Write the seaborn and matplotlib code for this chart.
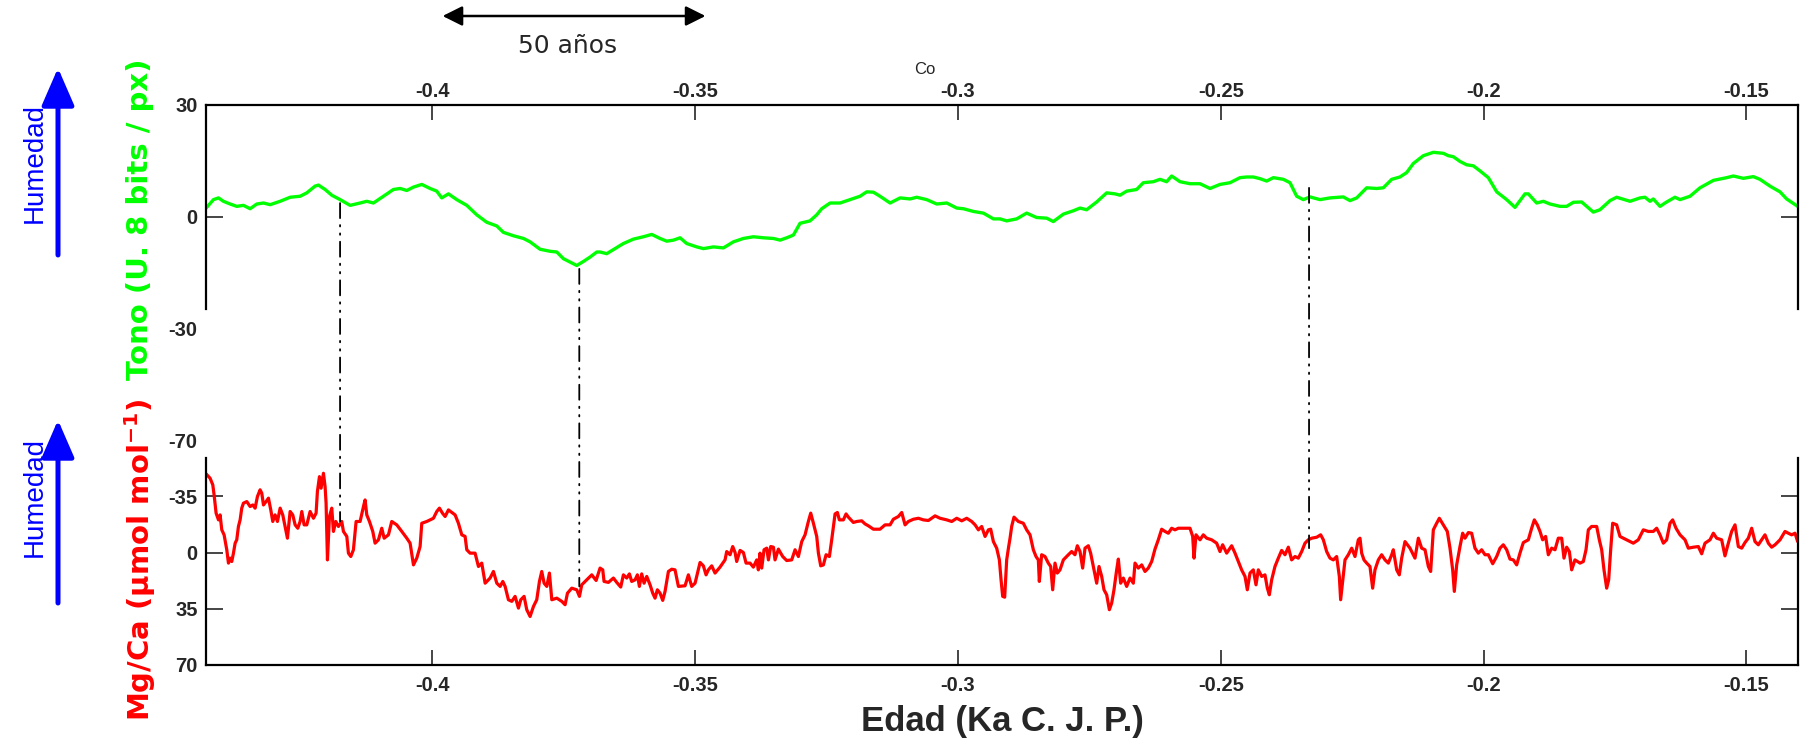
import numpy as np
import pandas as pd
import matplotlib
matplotlib.use("Agg")
import matplotlib.pyplot as plt
import seaborn as sns
from matplotlib.patches import ConnectionPatch

# ---------------- data ----------------
age_ticks = [-0.40, -0.35, -0.30, -0.25, -0.20, -0.15]
age_tick_labels = ["-0.4", "-0.35", "-0.3", "-0.25", "-0.2", "-0.15"]
tono_ticks = [-30, 0, 30]
tono_tick_labels = ["-30", "0", "30"]
mgca_ticks = [-70, -35, 0, 35, 70]
mgca_tick_labels = ["-70", "-35", "0", "35", "70"]

green_x = [
    -0.44298, -0.44158, -0.44063, -0.43968, -0.43841, -0.43715, -0.43588, -0.43461, -0.43334, -0.43207,
    -0.43081, -0.42890, -0.42700, -0.42510, -0.42383, -0.42225, -0.42161, -0.42035, -0.41908, -0.41749,
    -0.41559, -0.41369, -0.41242, -0.41115, -0.40925, -0.40735, -0.40608, -0.40481, -0.40354, -0.40196,
    -0.40037, -0.39911, -0.39816, -0.39689, -0.39530, -0.39340, -0.39150, -0.38960, -0.38769, -0.38643,
    -0.38453, -0.38262, -0.38136, -0.37945, -0.37755, -0.37628, -0.37501, -0.37375, -0.37248, -0.37121,
    -0.36994, -0.36867,
    -0.36805, -0.36678, -0.36520, -0.36361, -0.36171, -0.35981, -0.35822, -0.35664, -0.35537, -0.35410,
    -0.35283, -0.35157, -0.34966, -0.34840, -0.34649, -0.34459, -0.34269, -0.34079, -0.33889, -0.33698,
    -0.33508, -0.33381, -0.33255, -0.33128, -0.33001, -0.32811, -0.32684, -0.32589, -0.32430, -0.32240,
    -0.32050, -0.31860, -0.31733, -0.31606, -0.31480, -0.31289, -0.31099, -0.30909, -0.30782, -0.30592,
    -0.30402, -0.30211, -0.30021, -0.29894, -0.29704, -0.29514, -0.29324,
    -0.29198, -0.29071, -0.28881, -0.28691, -0.28501, -0.28310, -0.28184, -0.27993, -0.27803, -0.27676,
    -0.27550, -0.27359, -0.27169, -0.27011, -0.26916, -0.26789, -0.26599, -0.26472, -0.26282, -0.26155,
    -0.26028, -0.25933, -0.25774, -0.25584, -0.25394, -0.25204, -0.25014, -0.24823, -0.24633, -0.24506,
    -0.24380, -0.24253, -0.24126, -0.23999, -0.23809, -0.23682, -0.23555, -0.23429, -0.23302, -0.23112,
    -0.22922, -0.22668, -0.22541, -0.22414, -0.22224, -0.22034, -0.21907, -0.21748,
    -0.21590, -0.21463, -0.21336, -0.21146, -0.20956, -0.20766, -0.20671, -0.20576, -0.20449, -0.20322,
    -0.20195, -0.20068, -0.19910, -0.19751, -0.19561, -0.19403, -0.19213, -0.19149, -0.18991, -0.18864,
    -0.18737, -0.18547, -0.18420, -0.18293, -0.18135, -0.17913, -0.17786, -0.17596, -0.17469, -0.17215,
    -0.17025, -0.16930, -0.16835, -0.16772, -0.16645, -0.16518, -0.16360, -0.16264, -0.16074, -0.15884,
    -0.15630, -0.15376, -0.15250, -0.15060, -0.14870, -0.14743, -0.14553, -0.14362, -0.14236, -0.14026,
]
green_y = [
    2.27, 4.54, 5.0, 4.09, 3.36, 2.73, 3.0, 2.09, 3.36, 3.63,
    3.18, 4.09, 5.18, 5.45, 6.36, 8.18, 8.45, 7.27, 5.73, 4.54,
    3.0, 3.63, 4.09, 3.63, 5.45, 7.27, 7.54, 7.0, 7.91, 8.63,
    7.54, 6.82, 5.0, 6.09, 4.54, 3.0, 0.45, -1.55, -2.55, -4.27,
    -5.18, -5.91, -6.82, -8.82, -9.36, -9.55, -11.36, -12.27, -13.18, -12.09,
    -10.91, -9.55,
    -9.55, -10.0, -8.64, -7.27, -6.09, -5.45, -4.82, -5.91, -6.64, -6.36,
    -5.73, -7.27, -8.18, -8.64, -8.18, -8.45, -6.82, -5.91, -5.45, -5.73,
    -5.91, -6.36, -5.73, -5.0, -1.82, -1.18, 0.45, 2.09, 3.63, 3.63,
    4.54, 5.45, 6.64, 6.54, 5.45, 3.63, 5.0, 4.72, 5.18, 4.54,
    3.36, 3.63, 2.27, 2.09, 1.36, 0.91, -0.64,
    -0.64, -1.18, -0.64, 0.91, -0.27, -0.45, -1.36, 0.64, 1.54, 2.27,
    1.82, 3.91, 6.36, 6.09, 5.73, 6.82, 7.27, 9.09, 9.36, 10.0,
    9.36, 10.9, 9.36, 8.82, 8.82, 7.54, 8.63, 9.09, 10.45, 10.63,
    10.63, 10.18, 9.54, 10.45, 10.0, 9.09, 5.45, 4.54, 5.27, 4.54,
    5.0, 5.27, 4.27, 5.0, 7.72, 7.54, 7.72, 10.0,
    10.64, 11.82, 14.27, 16.36, 17.27, 17.0, 16.36, 16.09, 14.82, 13.91,
    13.64, 12.27, 10.45, 6.64, 4.54, 2.45, 6.09, 6.09, 3.63, 4.09,
    3.36, 2.73, 2.73, 3.82, 3.91, 1.18, 1.82, 4.27, 5.18, 4.09,
    5.0, 5.18, 4.09, 4.72, 2.73, 3.91, 5.18, 4.54, 5.45, 7.72,
    9.72, 10.45, 10.9, 10.27, 10.73, 10.0, 8.18, 6.63, 4.72, 2.73,
]

red_x = [
    -0.44298, -0.44222, -0.44171, -0.44146, -0.44108, -0.44063, -0.44032, -0.44000, -0.43956, -0.43905,
    -0.43873, -0.43841, -0.43810, -0.43778, -0.43746, -0.43715, -0.43683, -0.43651, -0.43620, -0.43588,
    -0.43524, -0.43461, -0.43410, -0.43366, -0.43322, -0.43271, -0.43239, -0.43207, -0.43157, -0.43112,
    -0.43068, -0.43030, -0.42986, -0.42941, -0.42890, -0.42840, -0.42795, -0.42751, -0.42700, -0.42650,
    -0.42605, -0.42554, -0.42510, -0.42478, -0.42434, -0.42383, -0.42320, -0.42256, -0.42206, -0.42181,
    -0.42142, -0.42111, -0.42066, -0.42035, -0.42016, -0.41990, -0.41952, -0.41908, -0.41876, -0.41832,
    -0.41781, -0.41718, -0.41686, -0.41622, -0.41591, -0.41546, -0.41496, -0.41445, -0.41369, -0.41305,
    -0.41274, -0.41242, -0.41191, -0.41128, -0.41084, -0.41020, -0.40957, -0.40912, -0.40830, -0.40767,
    -0.40672, -0.40576, -0.40481, -0.40418, -0.40354, -0.40291, -0.40228, -0.40196, -0.40101, -0.39974,
    -0.39911, -0.39860, -0.39803, -0.39752, -0.39689, -0.39562, -0.39499, -0.39435, -0.39372, -0.39340,
    -0.39277, -0.39182, -0.39118, -0.39055, -0.38991, -0.38896, -0.38833, -0.38769, -0.38706, -0.38655,
    -0.38611, -0.38548, -0.38484, -0.38421, -0.38357, -0.38313, -0.38250, -0.38199, -0.38136, -0.38072,
    -0.38009, -0.37958, -0.37914, -0.37869, -0.37818, -0.37768, -0.37723, -0.37628, -0.37533, -0.37470,
    -0.37425, -0.37343, -0.37248, -0.37197, -0.37153, -0.37058, -0.36963, -0.36880,
    -0.36805, -0.36754, -0.36729, -0.36646, -0.36551, -0.36488, -0.36412, -0.36361, -0.36298, -0.36247,
    -0.36203, -0.36139, -0.36095, -0.36057, -0.36013, -0.35968, -0.35917, -0.35854, -0.35803, -0.35759,
    -0.35715, -0.35664, -0.35613, -0.35569, -0.35505, -0.35442, -0.35379, -0.35315, -0.35188, -0.35125,
    -0.35062, -0.34998, -0.34903, -0.34840, -0.34789, -0.34745, -0.34681, -0.34618, -0.34523, -0.34428,
    -0.34396, -0.34332, -0.34282, -0.34237, -0.34206, -0.34142, -0.34079, -0.34028, -0.33952, -0.33889,
    -0.33825, -0.33794, -0.33762, -0.33730, -0.33686, -0.33635, -0.33603, -0.33559, -0.33508, -0.33477,
    -0.33413, -0.33331, -0.33255, -0.33160, -0.33096, -0.33033, -0.32969, -0.32906, -0.32843, -0.32798,
    -0.32747, -0.32684, -0.32652, -0.32608, -0.32557, -0.32506, -0.32443, -0.32399, -0.32335, -0.32291,
    -0.32253, -0.32177, -0.32126, -0.32082, -0.31987, -0.31923, -0.31828, -0.31765, -0.31701, -0.31606,
    -0.31480, -0.31384, -0.31289, -0.31226, -0.31131, -0.31067, -0.31004, -0.30941, -0.30845, -0.30750,
    -0.30655, -0.30560, -0.30433, -0.30338, -0.30211, -0.30116, -0.30021, -0.29926, -0.29831, -0.29736,
    -0.29672, -0.29609, -0.29546, -0.29482, -0.29419, -0.29375, -0.29324, -0.29261, -0.29210, -0.29178,
    -0.29147, -0.29109, -0.29071, -0.29033, -0.29007,
    -0.28976, -0.28932, -0.28849, -0.28754, -0.28691, -0.28627, -0.28564, -0.28513, -0.28469, -0.28450,
    -0.28406, -0.28342, -0.28279, -0.28234, -0.28196, -0.28152, -0.28108, -0.28057, -0.27993, -0.27898,
    -0.27835, -0.27772, -0.27727, -0.27676, -0.27626, -0.27581, -0.27518, -0.27474, -0.27410, -0.27359,
    -0.27315, -0.27264, -0.27220, -0.27169, -0.27118, -0.27074, -0.27030, -0.26979, -0.26947, -0.26903,
    -0.26852, -0.26789, -0.26725, -0.26662, -0.26630, -0.26567, -0.26503, -0.26440, -0.26377, -0.26313,
    -0.26250, -0.26187, -0.26123, -0.26060, -0.25996, -0.25933, -0.25870, -0.25806, -0.25679, -0.25584,
    -0.25533, -0.25508, -0.25470, -0.25394, -0.25331, -0.25267, -0.25172, -0.25077, -0.25014, -0.24963,
    -0.24887, -0.24792, -0.24728, -0.24665, -0.24602, -0.24538, -0.24494, -0.24443, -0.24380, -0.24329,
    -0.24285, -0.24221, -0.24158, -0.24113, -0.24075, -0.24031, -0.23968, -0.23904, -0.23841, -0.23777,
    -0.23714, -0.23651, -0.23587, -0.23524, -0.23460, -0.23397, -0.23334, -0.23270, -0.23175, -0.23099,
    -0.23048, -0.22985, -0.22922, -0.22858, -0.22795, -0.22744, -0.22719, -0.22681, -0.22636, -0.22573,
    -0.22509, -0.22446, -0.22383, -0.22351, -0.22319, -0.22275, -0.22224, -0.22161, -0.22110, -0.22066,
    -0.22002, -0.21939, -0.21875, -0.21812, -0.21748, -0.21717, -0.21653, -0.21603, -0.21558, -0.21495,
    -0.21400,
    -0.21305, -0.21241, -0.21178, -0.21114, -0.21051, -0.21007, -0.20956, -0.20893, -0.20842, -0.20766,
    -0.20690, -0.20639, -0.20588, -0.20557, -0.20512, -0.20449, -0.20398, -0.20354, -0.20290, -0.20227,
    -0.20164, -0.20100, -0.20037, -0.19973, -0.19910, -0.19827, -0.19751, -0.19688, -0.19625, -0.19561,
    -0.19498, -0.19434, -0.19371, -0.19308, -0.19244, -0.19149, -0.19086, -0.19035, -0.18978, -0.18927,
    -0.18877, -0.18820, -0.18769, -0.18705, -0.18642, -0.18579, -0.18515, -0.18471, -0.18420, -0.18369,
    -0.18325, -0.18262, -0.18166, -0.18103, -0.18052, -0.18008, -0.17945, -0.17849, -0.17799, -0.17754,
    -0.17710, -0.17659, -0.17621, -0.17583, -0.17545, -0.17469, -0.17406, -0.17342, -0.17215, -0.17152,
    -0.17057, -0.16962, -0.16867, -0.16772, -0.16708, -0.16645, -0.16581, -0.16518, -0.16455, -0.16404,
    -0.16340, -0.16264, -0.16169, -0.16106, -0.16011, -0.15916, -0.15852, -0.15789, -0.15694, -0.15630,
    -0.15567, -0.15472, -0.15409, -0.15345, -0.15282, -0.15218, -0.15155, -0.15091, -0.15028, -0.14965,
    -0.14901, -0.14838, -0.14775, -0.14711, -0.14648, -0.14584, -0.14521, -0.14457, -0.14362, -0.14267,
    -0.14204, -0.14141, -0.14077, -0.14026,
]
red_y = [
    -48.9, -46.2, -42.1, -35.8, -24.5, -20.3, -23.4, -14.1, -11.0, -1.7,
    6.6, 3.5, 5.6, 0.4, -5.8, -7.9, -16.2, -20.3, -27.6, -30.7,
    -31.7, -28.6, -29.6, -27.6, -34.8, -39.0, -36.9, -29.6, -31.7, -33.8,
    -26.5, -19.3, -23.4, -19.3, -27.6, -23.4, -16.2, -8.9, -25.5, -23.4,
    -17.2, -15.1, -19.3, -25.5, -17.2, -17.2, -25.5, -21.3, -24.5, -37.9,
    -47.2, -40.0, -49.3, -41.0, -30.7, 4.6, -22.4, -27.6, -13.1, -19.3,
    -16.2, -19.3, -13.1, -10.0, 0.4, 2.5, -1.7, -19.3, -19.3, -28.6,
    -32.7, -23.4, -19.3, -13.1, -5.8, -7.9, -15.1, -8.9, -11.0, -19.3,
    -17.2, -13.1, -8.9, -5.8, 7.7, 3.5, -3.7, -18.2, -19.3, -21.3,
    -25.5, -27.6, -24.5, -22.4, -26.5, -23.4, -18.2, -11.0, -10.0, -1.7,
    0.4, 0.4, 8.7, 6.6, 19.1, 15.9, 11.8, 19.1, 21.1, 18.0,
    21.1, 29.4, 30.4, 27.3, 34.6, 29.4, 27.3, 35.6, 39.8, 33.6,
    29.4, 18.0, 11.8, 19.1, 21.1, 12.8, 29.4, 28.4, 30.4, 32.5,
    25.3, 22.2, 23.2, 27.3, 20.1, 17.0, 13.9, 17.4,
    9.7, 10.8, 18.0, 18.6, 15.9, 18.6, 21.5, 13.9, 15.9, 13.3,
    18.0, 17.0, 13.9, 21.1, 13.3, 19.1, 14.9, 20.1, 25.3, 28.4,
    23.2, 25.3, 29.8, 24.2, 11.8, 10.4, 10.8, 21.1, 20.7, 13.9,
    21.1, 19.1, 6.2, 8.3, 13.9, 10.8, 8.3, 12.8, 9.1, 4.6,
    -0.6, 1.4, -3.7, 0.0, 5.6, -1.3, 0.0, 6.6, 6.6, 9.1,
    4.6, 10.8, 0.4, 9.7, -1.7, -2.7, 4.6, -3.7, -3.3, 4.6,
    -2.1, 2.5, 5.0, 4.6, -1.7, 2.5, -6.8, -11.0, -19.3, -24.5,
    -18.2, -10.0, 0.4, 8.3, 7.7, 1.4, 2.5, -7.9, -24.0, -24.9,
    -20.3, -20.3, -24.0, -22.0, -18.7, -19.3, -19.7, -17.8, -16.6, -14.5,
    -14.5, -17.2, -17.2, -20.7, -22.4, -24.9, -17.2, -19.3, -20.7, -21.3,
    -20.3, -19.9, -22.8, -21.3, -20.3, -19.3, -21.3, -19.7, -21.3, -19.3,
    -17.2, -14.1, -16.2, -10.0, -14.1, -14.5, -6.8, -2.7, 4.6, 17.0,
    27.3, 27.8, 4.6, -3.7, -8.9,
    -16.2, -22.0, -19.3, -18.2, -14.1, -11.0, -1.7, 2.5, 4.6, 18.0,
    1.4, 2.5, 6.6, 8.7, 23.2, 6.6, 12.8, 10.8, 4.6, 1.4,
    -0.6, 1.4, -4.2, -0.6, 9.7, -2.7, -4.2, 0.4, 10.8, 19.1,
    8.7, 14.9, 23.2, 26.3, 35.6, 31.5, 23.2, 10.8, 4.1, 19.1,
    15.9, 21.1, 15.9, 19.1, 6.6, 9.7, 7.7, 11.8, 9.7, 5.6,
    -2.1, -7.9, -14.5, -13.1, -12.0, -15.1, -14.1, -15.1, -15.1, -15.1,
    -10.0, 3.5, -11.0, -7.9, -11.0, -8.9, -7.9, -5.8, -0.6, -4.8,
    0.4, -4.2, 0.4, 5.6, 10.8, 14.9, 23.2, 12.8, 10.8, 20.1,
    10.8, 14.9, 13.9, 22.2, 26.3, 17.0, 8.7, 3.5, -1.3, 1.4,
    -3.3, 4.6, 2.5, 3.5, -0.6, -5.8, -7.9, -8.9, -9.5, -11.0,
    -7.9, -0.6, 3.5, 4.6, 2.5, 14.9, 29.4, 18.0, 4.6, 1.4,
    -2.7, 2.5, -7.9, -8.9, 0.4, 4.6, 6.6, 8.7, 22.2, 10.8,
    4.6, 1.4, 4.6, 6.6, 1.4, -1.7, 10.8, 13.9, 3.5, -6.8,
    -2.7,
    3.5, -8.9, -2.7, -1.7, 8.7, 11.8, -14.1, -18.2, -21.3, -17.2,
    -13.1, -2.7, 10.8, 24.2, 7.7, -3.7, -12.0, -8.9, -12.4, -12.0,
    -2.7, 0.4, -1.7, 1.4, 1.4, 7.0, 2.5, -2.7, -4.8, -1.7,
    4.1, 4.6, 7.7, 0.4, -6.2, -7.9, -15.1, -20.3, -17.2, -13.1,
    -7.9, -10.0, 1.4, -2.7, -1.7, -8.9, -8.9, 3.5, -3.3, -0.6,
    10.8, 4.6, 6.6, 5.6, -1.7, -14.1, -16.2, -16.2, -7.9, -1.7,
    10.8, 22.2, 17.0, -1.7, -18.2, -17.2, -10.0, -8.9, -6.8, -5.8,
    -7.9, -14.1, -13.1, -13.1, -15.1, -11.0, -5.8, -7.9, -18.2, -20.3,
    -15.1, -11.0, -7.9, -2.7, -3.3, -3.7, 0.8, -5.8, -7.9, -12.0,
    -8.9, -7.9, 2.1, -5.8, -13.1, -17.2, -3.7, -2.7, -6.2, -8.9,
    -15.1, -6.8, -4.8, -7.9, -11.0, -5.8, -3.3, -4.8, -7.9, -13.1,
    -12.0, -11.0, -12.0, -6.8,
]

# dash-dot correlation markers: x position, top end (Tono units), bottom end (Mg/Ca units)
tie_x = [-0.4175, -0.3720, -0.2332]
tie_top = [3.6, -14.1, 7.7]
tie_bot = [-19.3, 21.1, -2.7]

GREEN = "#00FF00"
RED = "#FF0000"
BLUE = "#0000FF"

# ---------------- style ----------------
sns.set_style("white")
plt.rcParams["font.family"] = ["Liberation Sans", "DejaVu Sans"]
plt.rcParams["lines.scale_dashes"] = False

W, H = 1806, 744
fig = plt.figure(figsize=(W / 100, H / 100), dpi=100)
ax_top = fig.add_axes([206 / W, 1 - 328 / H, 1592 / W, 223 / H])
ax_bot = fig.add_axes([206 / W, 1 - 665 / H, 1592 / W, 225 / H])
for ax in (ax_top, ax_bot):
    ax.patch.set_alpha(0)

green_df = pd.DataFrame({"edad": green_x, "tono": green_y})
red_df = pd.DataFrame({"edad": red_x, "mgca": red_y})
sns.lineplot(data=green_df, x="edad", y="tono", ax=ax_top, color=GREEN, lw=2.4,
             sort=False, estimator=None)
sns.lineplot(data=red_df, x="edad", y="mgca", ax=ax_bot, color=RED, lw=2.3,
             sort=False, estimator=None)

xlim = (-0.4430, -0.1402)
ax_top.set_xlim(*xlim)
ax_bot.set_xlim(*xlim)
ax_top.set_ylim(-30, 30)
ax_bot.set_ylim(70, -70)

for ax in (ax_top, ax_bot):
    ax.set_xlabel("")
    ax.set_ylabel("")
    ax.set_xticks(age_ticks)
    ax.set_xticklabels(age_tick_labels)
ax_top.set_yticks(tono_ticks)
ax_top.set_yticklabels(tono_tick_labels)
ax_bot.set_yticks(mgca_ticks)
ax_bot.set_yticklabels(mgca_tick_labels)

LS = 14.5
ax_top.tick_params(axis="x", top=True, bottom=False, labeltop=True, labelbottom=False,
                   direction="in", length=11, width=1.2, pad=3, labelsize=LS)
ax_top.tick_params(axis="y", left=True, right=True, labelleft=True, labelright=False,
                   direction="in", length=12, width=1.2, pad=6, labelsize=LS)
ax_bot.tick_params(axis="x", top=False, bottom=True, labeltop=False, labelbottom=True,
                   direction="in", length=11, width=1.2, pad=8, labelsize=LS)
ax_bot.tick_params(axis="y", left=True, right=True, labelleft=True, labelright=False,
                   direction="in", length=12, width=1.2, pad=6, labelsize=LS)

for ax in (ax_top, ax_bot):
    for lab in ax.get_xticklabels() + ax.get_yticklabels():
        lab.set_fontweight("bold")
    for sp in ax.spines.values():
        sp.set_color("black")
        sp.set_linewidth(1.6)

ax_top.spines["bottom"].set_visible(False)
ax_top.spines["left"].set_bounds(-25, 30)
ax_top.spines["right"].set_bounds(-25, 30)
ax_bot.spines["top"].set_visible(False)
ax_bot.spines["left"].set_bounds(-59, 70)
ax_bot.spines["right"].set_bounds(-59, 70)

# hide tick marks that fall beyond the truncated spines
for t, v in zip(ax_top.yaxis.get_major_ticks(), tono_ticks):
    if v == -30:
        t.tick1line.set_visible(False)
        t.tick2line.set_visible(False)
for t, v in zip(ax_bot.yaxis.get_major_ticks(), mgca_ticks):
    if v == -70:
        t.tick1line.set_visible(False)
        t.tick2line.set_visible(False)

# dash-dot tie lines spanning both panels
for xv, yt, yb in zip(tie_x, tie_top, tie_bot):
    con = ConnectionPatch(xyA=(xv, yt), coordsA=ax_top.transData,
                          xyB=(xv, yb), coordsB=ax_bot.transData,
                          color="black", lw=1.3,
                          linestyle=(0, (10.8, 5, 1, 5, 1, 5)))
    fig.add_artist(con)

# x label
fig.text(1002 / W, 1 - 722 / H, "Edad (Ka C. J. P.)", ha="center", va="center",
         fontsize=25, fontweight="bold")

# y labels
fig.text(140 / W, 1 - 219 / H, "Tono (U. 8 bits / px)", rotation=90, ha="center",
         va="center", fontsize=21, fontweight="bold", color=GREEN, family="DejaVu Sans")
fig.text(140 / W, 1 - 560 / H, r"Mg/Ca (µmol mol$^{\mathbf{-1}}$)", rotation=90,
         ha="center", va="center", fontsize=21, fontweight="bold", color=RED,
         family="DejaVu Sans")

# Humedad labels + arrows
for yc, ytail, ytip in [(163, 255, 68), (497, 603, 420)]:
    fig.text(35 / W, 1 - yc / H, "Humedad", rotation=90, ha="center", va="center",
             fontsize=20, color=BLUE, family="Liberation Sans")
    fig.add_artist(matplotlib.patches.FancyArrowPatch(
        (58 / W, 1 - ytail / H), (58 / W, 1 - ytip / H), transform=fig.transFigure,
        arrowstyle="-|>,head_length=1.15,head_width=0.5", mutation_scale=20,
        color=BLUE, lw=3.6, shrinkA=0, shrinkB=0))

# 50 años scale arrow above the top panel
ax_top.annotate("", xy=(-0.3480, 1 - 16 / H), xytext=(-0.3980, 1 - 16 / H),
                xycoords=("data", "figure fraction"), textcoords=("data", "figure fraction"),
                arrowprops=dict(arrowstyle="<|-|>,head_length=0.6,head_width=0.3",
                                mutation_scale=20, color="black", lw=1.8,
                                shrinkA=0, shrinkB=0), annotation_clip=False)
ax_top.annotate("50 años", xy=(-0.3743, 1 - 46 / H), xycoords=("data", "figure fraction"),
                ha="center", va="center", fontsize=18, family="DejaVu Sans",
                annotation_clip=False)
ax_top.annotate("Co", xy=(-0.3062, 1 - 69 / H), xycoords=("data", "figure fraction"),
                ha="center", va="center", fontsize=12, annotation_clip=False)

fig.savefig("out.png", dpi=100)
